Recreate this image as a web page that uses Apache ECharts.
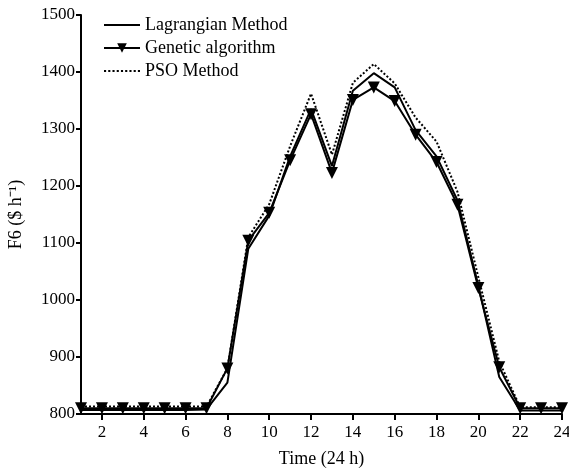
<!DOCTYPE html>
<html>
<head>
<meta charset="utf-8">
<script src="https://cdn.jsdelivr.net/npm/echarts@6/dist/echarts.min.js"></script>
<style>html,body{margin:0;padding:0;background:#fff}#c{width:569px;height:470px}</style>
</head>
<body>
<div id="c"></div>
<script>
const hours = [1,2,3,4,5,6,7,8,9,10,11,12,13,14,15,16,17,18,19,20,21,22,23,24];
const lagrangian = [807,807,807,807,807,807,808,855,1090,1148,1252,1335,1235,1367,1398,1373,1298,1252,1175,1025,865,806,806,806];
const genetic = [810,810,810,810,810,810,810,880,1104,1153,1245,1326,1223,1351,1373,1349,1290,1242,1167,1021,882,810,810,810];
const pso = [813,813,813,813,813,813,813,880,1110,1168,1270,1362,1255,1381,1414,1380,1320,1278,1190,1040,892,812,812,812];
const xTicks = [2,4,6,8,10,12,14,16,18,20,22,24];
const seriesNames = ['Lagrangian Method','Genetic algorithm','PSO Method'];

const font = 'Liberation Serif';
const pair = (arr) => hours.map((h,i)=>[h,arr[i]]);
const solidIcon = 'path://M0,0L36,0L36,2L0,2Z';
let dots = '';
for (let i = 0; i < 9; i++) { const x = i*4; dots += 'M'+x+',0L'+(x+2)+',0L'+(x+2)+',2L'+x+',2Z'; }
const dottedIcon = 'path://' + dots;

const chart = echarts.init(document.getElementById('c'), null, {renderer:'canvas'});
chart.setOption({
  animation:false,
  backgroundColor:'#fff',
  textStyle:{fontFamily:font,color:'#000'},
  grid:{left:81,right:7,top:15,bottom:56,containLabel:false,outerBoundsMode:'none'},
  legend:{
    orient:'vertical',left:98,top:11,itemWidth:36,itemHeight:12,itemGap:5,
    symbolKeepAspect:true,
    textStyle:{fontFamily:font,fontSize:18,color:'#000'},
    data:[
      {name:seriesNames[0],icon:solidIcon},
      {name:seriesNames[1]},
      {name:seriesNames[2],icon:dottedIcon}
    ]
  },
  xAxis:{
    type:'value',min:1,max:24,
    name:'Time (24 h)',nameLocation:'middle',nameGap:36,
    nameTextStyle:{fontFamily:font,fontSize:18,color:'#000'},
    axisLine:{lineStyle:{color:'#000',width:2}},
    axisTick:{show:true,length:6,lineStyle:{color:'#000',width:2},customValues:xTicks},
    axisLabel:{fontFamily:font,fontSize:17,color:'#000',margin:10,customValues:xTicks},
    splitLine:{show:false}
  },
  yAxis:{
    type:'value',min:800,max:1500,interval:100,
    name:'F6 ($ h\u207B\u00B9)',nameLocation:'middle',nameGap:56,
    nameTextStyle:{fontFamily:font,fontSize:18,color:'#000'},
    axisLine:{show:true,lineStyle:{color:'#000',width:2}},
    axisTick:{show:true,length:5,lineStyle:{color:'#000',width:2}},
    axisLabel:{fontFamily:font,fontSize:17,color:'#000',margin:6,formatter:(v)=>String(v)},
    splitLine:{show:false}
  },
  series:[
    {name:seriesNames[0],type:'line',data:pair(lagrangian),symbol:'none',
     lineStyle:{color:'#000',width:2},itemStyle:{color:'#000'}},
    {name:seriesNames[1],type:'line',data:pair(genetic),symbol:'triangle',symbolRotate:180,symbolSize:12,
     lineStyle:{color:'#000',width:2},itemStyle:{color:'#000'}},
    {name:seriesNames[2],type:'line',data:pair(pso),symbol:'none',
     lineStyle:{color:'#000',width:2,type:[2,2]},itemStyle:{color:'#000'}}
  ]
});
</script>
</body>
</html>
